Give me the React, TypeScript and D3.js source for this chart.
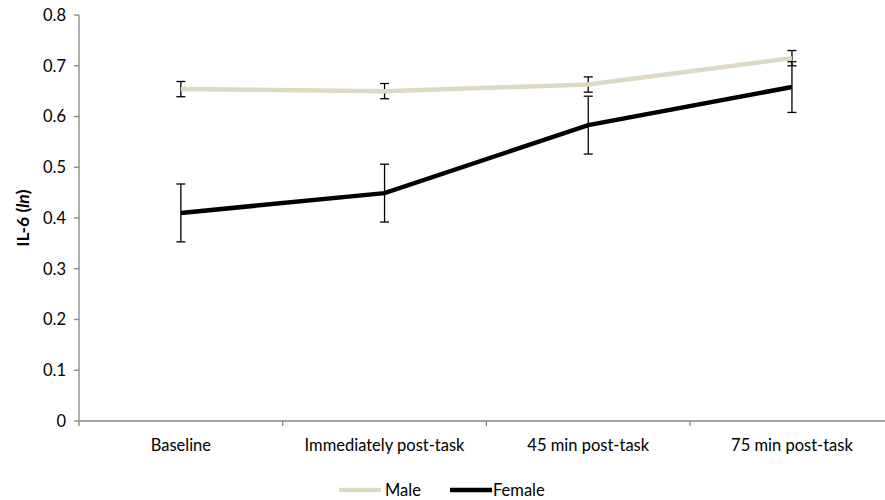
import React from 'react';
import * as d3 from 'd3';

const categories = ['Baseline', 'Immediately post-task', '45 min post-task', '75 min post-task'];
const maleValues = [0.654, 0.650, 0.663, 0.715];
const maleErrors = [0.015, 0.015, 0.015, 0.015];
const femaleValues = [0.410, 0.449, 0.583, 0.658];
const femaleErrors = [0.057, 0.057, 0.057, 0.05];
const yTicks = [0, 0.1, 0.2, 0.3, 0.4, 0.5, 0.6, 0.7, 0.8];

const W = 885;
const H = 500;
const left = 79;
const top = 15;
const bottom = 421;
const band = 203.7;
const font = 'Lato, "Open Sans", sans-serif';

const maleColor = '#ddd9c3';
const femaleColor = '#000000';

export default function App() {
  const x = d3.scaleBand<string>().domain(categories).range([left, left + band * 4]).padding(0);
  const y = d3.scaleLinear().domain([0, 0.8]).range([bottom, top]);
  const cx = (c: string) => (x(c) as number) + x.bandwidth() / 2;
  const line = d3.line<number>().x((_, i) => cx(categories[i])).y((v) => y(v));

  const errorBars = (vals: number[], errs: number[], key: string) =>
    vals.map((v, i) => {
      const px = cx(categories[i]);
      const y1 = y(v + errs[i]);
      const y2 = y(v - errs[i]);
      return (
        <g key={key + i} stroke="#000" strokeWidth={1.3}>
          <line x1={px} x2={px} y1={y1} y2={y2} />
          <line x1={px - 4.5} x2={px + 4.5} y1={y1} y2={y1} />
          <line x1={px - 4.5} x2={px + 4.5} y1={y2} y2={y2} />
        </g>
      );
    });

  return (
    <svg width={W} height={H} style={{ position: 'absolute', left: 0, top: 0, background: '#fff' }} fontFamily={font}>
      {/* y axis */}
      <line x1={left} x2={left} y1={top} y2={bottom} stroke="#868686" strokeWidth={1.3} />
      {yTicks.map((t) => (
        <g key={t}>
          <line x1={left - 5} x2={left} y1={y(t)} y2={y(t)} stroke="#868686" strokeWidth={1.3} />
          <text x={left - 13} y={y(t)} dy="0.35em" textAnchor="end" fontSize={16.5} fill="#000">
            {t === 0 ? '0' : t.toFixed(1)}
          </text>
        </g>
      ))}
      {/* x axis */}
      <line x1={left} x2={W + 12} y1={bottom} y2={bottom} stroke="#868686" strokeWidth={1.3} />
      {categories.map((c) => (
        <g key={c}>
          <line x1={x(c) as number} x2={x(c) as number} y1={bottom} y2={bottom + 5} stroke="#868686" strokeWidth={1.3} />
          <text x={cx(c)} y={bottom + 30} textAnchor="middle" fontSize={16.5} fill="#000">{c}</text>
        </g>
      ))}
      <text transform={`translate(29,${(top + bottom) / 2}) rotate(-90)`} textAnchor="middle" fontSize={17.5} fontWeight="bold">
        IL-6 (<tspan fontStyle="italic">ln</tspan>)
      </text>

      {errorBars(maleValues, maleErrors, 'm')}
      {errorBars(femaleValues, femaleErrors, 'f')}
      <path d={line(maleValues) as string} fill="none" stroke={maleColor} strokeWidth={4.5} />
      <path d={line(femaleValues) as string} fill="none" stroke={femaleColor} strokeWidth={4.5} />

      {/* legend */}
      <line x1={339} x2={381} y1={490} y2={490} stroke={maleColor} strokeWidth={4.5} />
      <text x={385} y={490} dy="0.35em" fontSize={16.5}>Male</text>
      <line x1={450} x2={492} y1={490} y2={490} stroke={femaleColor} strokeWidth={4.5} />
      <text x={493} y={490} dy="0.35em" fontSize={16.5}>Female</text>
    </svg>
  );
}
